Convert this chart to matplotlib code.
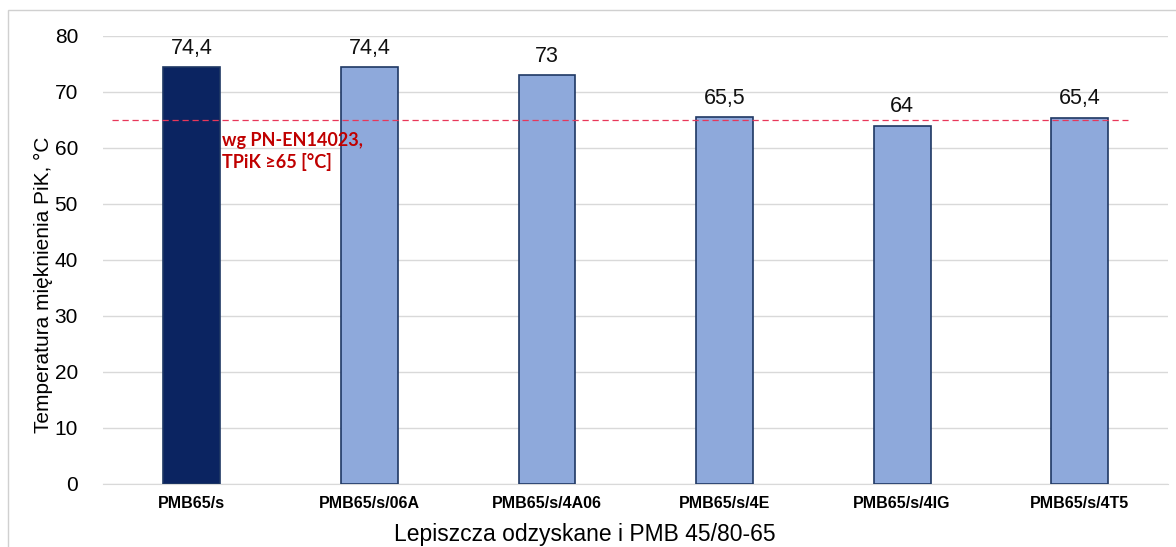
import matplotlib.pyplot as plt
from matplotlib.patches import Rectangle

plt.rcParams['font.family'] = ['Liberation Sans', 'DejaVu Sans']

kategorie = ["PMB65/s", "PMB65/s/06A", "PMB65/s/4A06", "PMB65/s/4E", "PMB65/s/4IG", "PMB65/s/4T5"]
wartosci = [74.4, 74.4, 73.0, 65.5, 64.0, 65.4]
etykiety = ["74,4", "74,4", "73", "65,5", "64", "65,4"]
wymog = 65

kolory = ["#0B2461"] + ["#8EA9DB"] * 5

fig = plt.figure(figsize=(11.76, 5.47), dpi=100)
ax = fig.add_axes([0.0876, 0.1152, 0.906, 0.819])

x = range(len(kategorie))
ax.bar(x, wartosci, width=0.32, color=kolory, edgecolor="#1F3864", linewidth=1.2, zorder=3)
for xi, v, t in zip(x, wartosci, etykiety):
    ax.text(xi, v + 1.5, t, ha="center", va="bottom", fontsize=15.5, color="#111111")

ax.plot([-0.45, 5.27], [wymog, wymog], color="#E8375A", linestyle=(0, (5, 3)), linewidth=0.9, zorder=4)
ax.text(0.17, 59.4, "wg PN-EN14023,\nTPiK \u226565 [°C]", color="#C00000", fontsize=13,
        fontweight="bold", family=["Lato", "DejaVu Sans"], ha="left", va="center", linespacing=1.3, zorder=5)

ax.set_xlim(-0.5, 5.5)
ax.set_ylim(0, 80)
ax.set_yticks(range(0, 81, 10))
ax.yaxis.grid(True, color="#D9D9D9", linewidth=1)
ax.set_axisbelow(True)
ax.set_xticks(list(x))
ax.set_xticklabels(kategorie, fontsize=11.5, fontweight="bold")
ax.tick_params(axis="both", length=0)
ax.tick_params(axis="y", labelsize=15, pad=18)
ax.tick_params(axis="x", pad=9)
for s in ["top", "right", "left"]:
    ax.spines[s].set_visible(False)
ax.spines["bottom"].set_color("#D9D9D9")

ax.set_ylabel("Temperatura mięknienia PiK, °C", fontsize=15)
ax.yaxis.set_label_coords(-0.047, 0.444)
ax.set_xlabel("Lepiszcza odzyskane i PMB 45/80-65", fontsize=16.5)
ax.xaxis.set_label_coords(0.452, -0.088)

fig.patches.append(Rectangle((8 / 1176, -0.1), 1.2, 1 - 10 / 547 + 0.1, transform=fig.transFigure,
                             fill=False, edgecolor="#D0D0D0", linewidth=1))

fig.savefig("out.png", dpi=100)
